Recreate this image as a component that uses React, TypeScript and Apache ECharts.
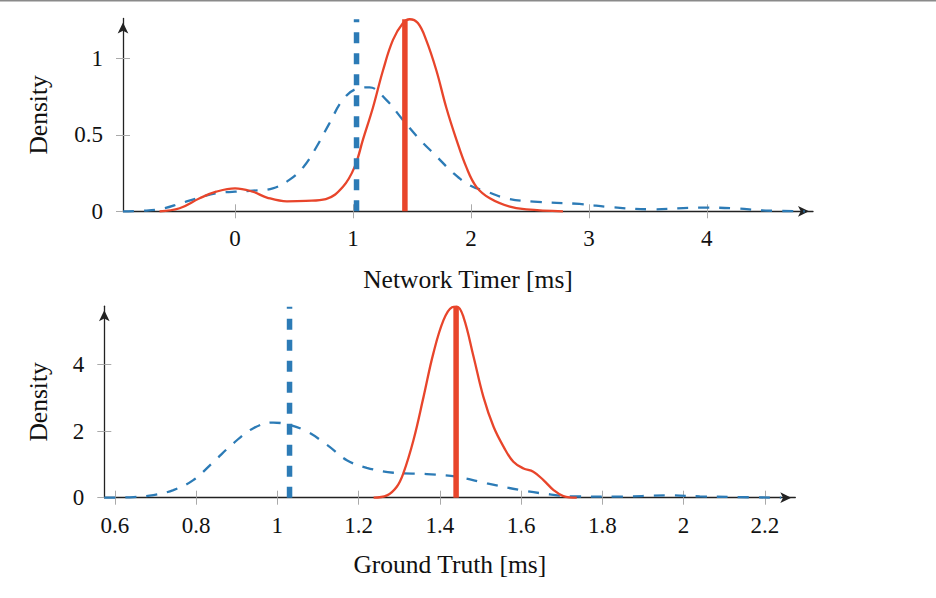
import { useEffect, useRef } from 'react'
import * as echarts from 'echarts'

// Network Timer densities
const netBlueX = [-0.95, -0.75, -0.6, -0.47, -0.3, -0.16, 0, 0.15, 0.32, 0.46, 0.58, 0.69, 0.8, 0.915, 1.03, 1.14, 1.28, 1.42, 1.565, 1.707, 1.85, 1.99, 2.13, 2.3, 2.53, 2.92, 3.2, 3.54, 3.94, 4.22, 4.5, 4.83]
const netBlueY = [0, 0.005, 0.02, 0.05, 0.09, 0.118, 0.128, 0.135, 0.15, 0.205, 0.29, 0.42, 0.575, 0.73, 0.8, 0.81, 0.73, 0.6, 0.47, 0.36, 0.25, 0.17, 0.13, 0.085, 0.063, 0.048, 0.026, 0.013, 0.024, 0.02, 0.005, 0]
const netRedX = [-0.64, -0.47, -0.3, -0.16, 0, 0.15, 0.27, 0.44, 0.6, 0.77, 0.915, 1.014, 1.085, 1.17, 1.254, 1.339, 1.424, 1.48, 1.55, 1.62, 1.707, 1.79, 1.876, 1.96, 2.046, 2.16, 2.33, 2.47, 2.78]
const netRedY = [0, 0.02, 0.085, 0.128, 0.15, 0.128, 0.09, 0.065, 0.068, 0.08, 0.16, 0.29, 0.47, 0.68, 0.92, 1.12, 1.23, 1.255, 1.23, 1.12, 0.92, 0.68, 0.47, 0.29, 0.16, 0.085, 0.03, 0.013, 0]
const netBlueMedian = 1.03
const netRedMedian = 1.44
const netXTicks = [0, 1, 2, 3, 4]
const netYTicks = [0, 0.5, 1]

// Ground Truth densities
const gtBlueX = [0.574, 0.646, 0.695, 0.744, 0.793, 0.843, 0.892, 0.941, 0.99, 1.03, 1.073, 1.122, 1.171, 1.22, 1.286, 1.368, 1.442, 1.516, 1.598, 1.671, 1.728, 1.836, 1.959, 2.04, 2.12, 2.24]
const gtBlueY = [0, 0.02, 0.08, 0.23, 0.53, 1.08, 1.64, 2.09, 2.26, 2.19, 1.99, 1.59, 1.13, 0.9, 0.75, 0.71, 0.63, 0.43, 0.23, 0.1, 0.04, 0.03, 0.07, 0.04, 0.02, 0]
const gtRedX = [1.237, 1.27, 1.294, 1.31, 1.335, 1.36, 1.384, 1.409, 1.43, 1.442, 1.458, 1.483, 1.507, 1.532, 1.557, 1.581, 1.606, 1.63, 1.655, 1.68, 1.704, 1.737]
const gtRedY = [0, 0.07, 0.33, 0.73, 1.73, 3.04, 4.34, 5.34, 5.73, 5.75, 5.44, 4.24, 3.04, 2.14, 1.53, 1.08, 0.88, 0.78, 0.53, 0.23, 0.05, 0]
const gtBlueMedian = 1.03
const gtRedMedian = 1.44
const gtXTicks = [0.6, 0.8, 1, 1.2, 1.4, 1.6, 1.8, 2, 2.2]
const gtYTicks = [0, 2, 4]

const BLUE = '#2c7bb6'
const RED = '#e8452b'
const FONT = 'Liberation Serif'

const zip = (xs: number[], ys: number[]) => xs.map((x, i) => [x, ys[i]])

function axisPair(dim: 'x' | 'y', grid: number, min: number, max: number, ticks: number[], name: string, nameGap: number) {
  const isX = dim === 'x'
  const main = {
    gridIndex: grid,
    type: 'value',
    min,
    max,
    position: isX ? 'bottom' : 'left',
    name,
    nameLocation: 'middle',
    nameGap,
    nameRotate: isX ? 0 : 90,
    nameTextStyle: { fontFamily: FONT, fontSize: 25.5, color: '#111' },
    axisLine: {
      show: true,
      onZero: false,
      symbol: ['none', 'arrow'],
      symbolSize: [8, 11],
      symbolOffset: [0, -4],
      lineStyle: { color: '#222', width: 1.3 },
    },
    axisTick: { show: true, customValues: ticks, length: 7, lineStyle: { color: '#aaa', width: 1 } },
    axisLabel: {
      show: true,
      customValues: ticks,
      margin: isX ? 16 : 20,
      fontFamily: FONT,
      fontSize: 23,
      color: '#111',
    },
    splitLine: { show: false },
  }
  const inner = {
    gridIndex: grid,
    type: 'value',
    min,
    max,
    position: isX ? 'bottom' : 'left',
    axisLine: { show: false, onZero: false },
    axisTick: { show: true, inside: true, customValues: ticks, length: 7, lineStyle: { color: '#aaa', width: 1 } },
    axisLabel: { show: false },
    splitLine: { show: false },
  }
  return [main, inner]
}

function curve(data: number[][], color: string, dashed: boolean, xi: number, yi: number) {
  return {
    type: 'line',
    xAxisIndex: xi,
    yAxisIndex: yi,
    data,
    smooth: 0.4,
    showSymbol: false,
    clip: false,
    lineStyle: { color, width: 2.3, type: dashed ? [11, 10] : 'solid' },
    z: 2,
  }
}

function vline(x: number, top: number, color: string, dashed: boolean, xi: number, yi: number) {
  return {
    type: 'line',
    xAxisIndex: xi,
    yAxisIndex: yi,
    data: [[x, 0], [x, top]],
    showSymbol: false,
    clip: false,
    lineStyle: { color, width: 5.5, type: dashed ? [11, 10] : 'solid', cap: 'butt' },
    z: dashed ? 4 : 3,
  }
}

export default function App() {
  const chartRef = useRef<HTMLDivElement>(null)

  useEffect(() => {
    if (!chartRef.current) return
    const chart = echarts.init(chartRef.current, null, { renderer: 'svg' })

    const netTop = 1.26
    const gtTop = 5.76

    const option = {
      animation: false,
      backgroundColor: '#fff',
      graphic: [
        { type: 'rect', shape: { x: 0, y: 0, width: 936, height: 1.5 }, style: { fill: '#8a8a8a' } },
      ],
      grid: [
        { left: 123, top: 18.5, width: 690, height: 192.8 },
        { left: 104.3, top: 306.2, width: 691, height: 191.5 },
      ],
      xAxis: [
        ...axisPair('x', 0, -0.95, 4.9, netXTicks, 'Network Timer [ms]', 55),
        ...axisPair('x', 1, 0.574, 2.275, gtXTicks, 'Ground Truth [ms]', 54),
      ],
      yAxis: [
        ...axisPair('y', 0, 0, netTop, netYTicks, 'Density', 72),
        ...axisPair('y', 1, 0, gtTop, gtYTicks, 'Density', 53),
      ],
      series: [
        curve(zip(netBlueX, netBlueY), BLUE, true, 0, 0),
        curve(zip(netRedX, netRedY), RED, false, 0, 0),
        vline(netRedMedian, netTop - 0.005, RED, false, 0, 0),
        vline(netBlueMedian, netTop - 0.005, BLUE, true, 0, 0),
        curve(zip(gtBlueX, gtBlueY), BLUE, true, 2, 2),
        curve(zip(gtRedX, gtRedY), RED, false, 2, 2),
        vline(gtRedMedian, gtTop - 0.02, RED, false, 2, 2),
        vline(gtBlueMedian, gtTop - 0.02, BLUE, true, 2, 2),
      ],
    }

    chart.setOption(option as any)

    return () => {
      chart.dispose()
    }
  }, [])

  return (
    <div
      ref={chartRef}
      style={{ position: 'absolute', left: 0, top: 0, width: '936px', height: '598px' }}
    />
  )
}
